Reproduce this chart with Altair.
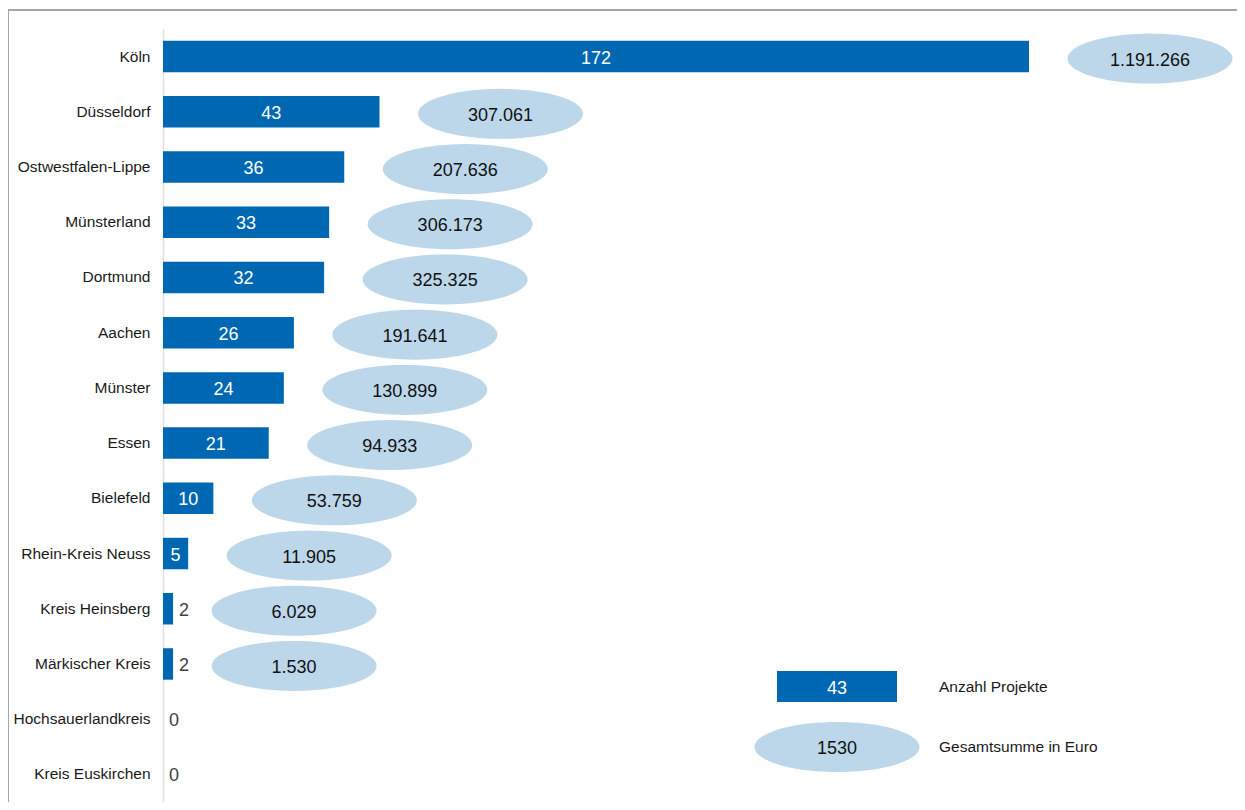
import altair as alt
import numpy as np
import pandas as pd

# ---------------- data ----------------
regions = ["Köln", "Düsseldorf", "Ostwestfalen-Lippe", "Münsterland", "Dortmund",
           "Aachen", "Münster", "Essen", "Bielefeld", "Rhein-Kreis Neuss",
           "Kreis Heinsberg", "Märkischer Kreis", "Hochsauerlandkreis", "Kreis Euskirchen"]
projects = [172, 43, 36, 33, 32, 26, 24, 21, 10, 5, 2, 2, 0, 0]
totals = [1191266, 307061, 207636, 306173, 325325, 191641, 130899, 94933, 53759,
          11905, 6029, 1530, None, None]

legend_count = [43]
legend_total = ["1530"]
legend_labels = ["Anzahl Projekte", "Gesamtsumme in Euro"]

# ---------------- build tables ----------------
def de_fmt(v):
    return "" if v is None else f"{v:,}".replace(",", ".")

df = pd.DataFrame({
    "region": regions,
    "projects": projects,
    "total": totals,
    "total_label": [de_fmt(v) for v in totals],
})
df["has_total"] = [v is not None for v in totals]

leg = pd.DataFrame({"count": legend_count, "total": legend_total,
                    "lab1": [legend_labels[0]], "lab2": [legend_labels[1]]})

FONT = "Liberation Sans"
BAR = "#0068b3"
ELL = "#bdd7ea"
VFS = 18      # value label font size
DY = 2        # optical centring of digits

# ellipse symbol (unit path, scaled by sqrt(size)/2 in Vega)
t = np.linspace(0, 2 * np.pi, 73)[:-1]
ratio = 50 / 165
pts = [f"{np.cos(a):.4f},{ratio * np.sin(a):.4f}" for a in t]
ELLIPSE = "M" + "L".join(pts) + "Z"
ELL_SIZE = 165 ** 2

y_enc = alt.Y(
    "region:N", sort=regions, title=None,
    scale=alt.Scale(paddingInner=0.43, paddingOuter=0.215),
    axis=alt.Axis(ticks=False, domainColor="#e0e0e0", domainWidth=1.5,
                  labelFont=FONT, labelFontSize=15.5, labelColor="#1a1a1a",
                  labelPadding=13, grid=False, labelLimit=300),
)
x_scale = alt.Scale(domain=[0, 172], nice=False, zero=True)

base = alt.Chart(df)

bars = base.mark_bar(color=BAR).encode(
    x=alt.X("projects:Q", scale=x_scale, axis=None), y=y_enc)

inside = base.transform_filter("datum.projects >= 5").transform_calculate(
    mid="datum.projects / 2"
).mark_text(color="white", font=FONT, fontSize=VFS, dy=DY).encode(
    x=alt.X("mid:Q", scale=x_scale, axis=None), y=y_enc, text="projects:Q")

outside = base.transform_filter("datum.projects < 5").mark_text(
    color="#404040", font=FONT, fontSize=VFS, align="left", dx=6, dy=DY
).encode(x=alt.X("projects:Q", scale=x_scale, axis=None), y=y_enc, text="projects:Q")

ellipses = base.transform_filter("datum.has_total").mark_point(
    shape=ELLIPSE, size=ELL_SIZE, filled=True, color=ELL, opacity=1,
    strokeWidth=0, xOffset=121, yOffset=2
).encode(x=alt.X("projects:Q", scale=x_scale, axis=None), y=y_enc)

ell_text = base.transform_filter("datum.has_total").mark_text(
    color="#111111", font=FONT, fontSize=VFS, xOffset=121, yOffset=2, dy=DY
).encode(x=alt.X("projects:Q", scale=x_scale, axis=None), y=y_enc, text="total_label:N")

# ---------------- legend ----------------
lb = alt.Chart(leg)
leg_rect = lb.mark_rect(color=BAR).encode(
    x=alt.value(614), x2=alt.value(734), y=alt.value(642), y2=alt.value(673))
leg_rect_t = lb.mark_text(color="white", font=FONT, fontSize=VFS, dy=DY).encode(
    x=alt.value(674), y=alt.value(658), text="count:Q")
leg_ell = lb.mark_point(shape=ELLIPSE, size=ELL_SIZE, filled=True, color=ELL,
                        opacity=1, strokeWidth=0).encode(
    x=alt.value(674), y=alt.value(718))
leg_ell_t = lb.mark_text(color="#111111", font=FONT, fontSize=VFS, dy=DY).encode(
    x=alt.value(674), y=alt.value(718), text="total:N")
leg_l1 = lb.mark_text(color="#1a1a1a", font=FONT, fontSize=15.5, align="left").encode(
    x=alt.value(776), y=alt.value(658), text="lab1:N")
leg_l2 = lb.mark_text(color="#1a1a1a", font=FONT, fontSize=15.5, align="left").encode(
    x=alt.value(776), y=alt.value(718), text="lab2:N")

frame = lb.mark_rect(fillOpacity=0, stroke="#a6a6a6", strokeWidth=2).encode(
    x=alt.value(-155), x2=alt.value(2000), y=alt.value(-19), y2=alt.value(2000))

chart = alt.layer(
    frame, bars, inside, outside, ellipses, ell_text,
    leg_rect, leg_rect_t, leg_ell, leg_ell_t, leg_l1, leg_l2
).properties(
    width=866, height=773,
    autosize=alt.AutoSizeParams(type="none"),
    padding={"left": 155, "top": 21, "right": 208, "bottom": 0},
).configure_view(stroke=None)

chart.save("out.html", embed_options={"renderer": "svg", "actions": False})
